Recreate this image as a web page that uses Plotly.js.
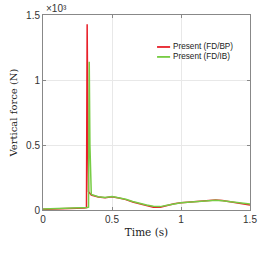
<!DOCTYPE html>
<html><head><meta charset="utf-8">
<script src="https://cdn.plot.ly/plotly-3.0.1.min.js"></script>
<style>html,body{margin:0;padding:0;background:#fff}#c{width:260px;height:260px}</style>
</head><body><div id="c"></div>
<script>
const redTime = [0,0.05,0.1,0.15,0.2,0.25,0.3,0.315,0.32,0.325,0.33,0.35,0.4,0.45,0.5,0.55,0.6,0.65,0.7,0.75,0.8,0.85,0.9,0.95,1.0,1.05,1.1,1.15,1.2,1.25,1.3,1.35,1.4,1.45,1.5];
const redForce = [5,6,7,8,10,12,15,18,1428,600,140,115,100,95,102,92,80,62,48,33,22,22,35,48,55,60,65,70,75,76,73,65,55,46,38];
const greenTime = [0,0.05,0.1,0.15,0.2,0.25,0.3,0.32,0.33,0.335,0.34,0.345,0.35,0.4,0.45,0.5,0.55,0.6,0.65,0.7,0.75,0.8,0.85,0.9,0.95,1.0,1.05,1.1,1.15,1.2,1.25,1.3,1.35,1.4,1.45,1.5];
const greenForce = [8,9,10,11,12,14,18,20,22,1140,500,135,120,102,96,104,95,82,65,50,38,28,26,36,48,55,60,65,70,74,75,72,65,56,50,46];
const yTickVals = [0,500,1000,1500];
const yTickText = ['0','0.5','1','1.5'];
const xTickVals = [0,0.5,1,1.5];
const xTickText = ['0','0.5','1','1.5'];
const names = ['Present (FD/BP)','Present (FD/IB)'];
const colors = ['#e8202a','#77cc44'];

const traces = [
  {x: redTime, y: redForce, type:'scatter', mode:'lines', name:names[0], line:{color:colors[0], width:1.5}},
  {x: greenTime, y: greenForce, type:'scatter', mode:'lines', name:names[1], line:{color:colors[1], width:1.5}}
];
const legY = [0.836, 0.785];
const shapes = [];
const annotations = [{xref:'paper', yref:'paper', x:0.005, y:1.0, xanchor:'left', yanchor:'bottom', showarrow:false,
    text:'×10³', font:{family:'Liberation Sans, Arial', size:10, color:'#333'}, yshift:-1}];
names.forEach((n,i)=>{
  shapes.push({type:'line', xref:'paper', yref:'paper', x0:0.551, x1:0.614, y0:legY[i], y1:legY[i], line:{color:colors[i], width:1.8}});
  annotations.push({xref:'paper', yref:'paper', x:0.618, y:legY[i], xanchor:'left', yanchor:'middle', showarrow:false,
    text:n, font:{family:'Liberation Sans, Arial', size:8.2, color:'#222'}});
});
const layout = {
  width:260, height:260,
  margin:{l:43, r:10, t:15, b:50},
  paper_bgcolor:'#fff', plot_bgcolor:'#fff',
  showlegend:false,
  shapes: shapes,
  annotations: annotations,
  xaxis:{range:[0,1.5], tickvals:xTickVals, ticktext:xTickText, showgrid:true, gridcolor:'#e8e8e8', zeroline:false,
    showline:true, linecolor:'#888', linewidth:1, mirror:'ticks', ticks:'inside', ticklen:3, tickcolor:'#888',
    tickfont:{family:'Liberation Sans, Arial', size:10, color:'#333'},
    title:{text:'Time (s)', font:{family:'DejaVu Serif, Liberation Serif', size:10.5, color:'#222'}, standoff:4}},
  yaxis:{range:[0,1500], tickvals:yTickVals, ticktext:yTickText, showgrid:true, gridcolor:'#e8e8e8', zeroline:false,
    showline:true, linecolor:'#888', linewidth:1, mirror:'ticks', ticks:'inside', ticklen:3, tickcolor:'#888',
    tickfont:{family:'Liberation Sans, Arial', size:10, color:'#333'},
    title:{text:'Vertical force (N)', font:{family:'DejaVu Serif, Liberation Serif', size:10, color:'#222'}, standoff:6}}
};
Plotly.newPlot('c', traces, layout, {staticPlot:true, displayModeBar:false});
</script></body></html>
